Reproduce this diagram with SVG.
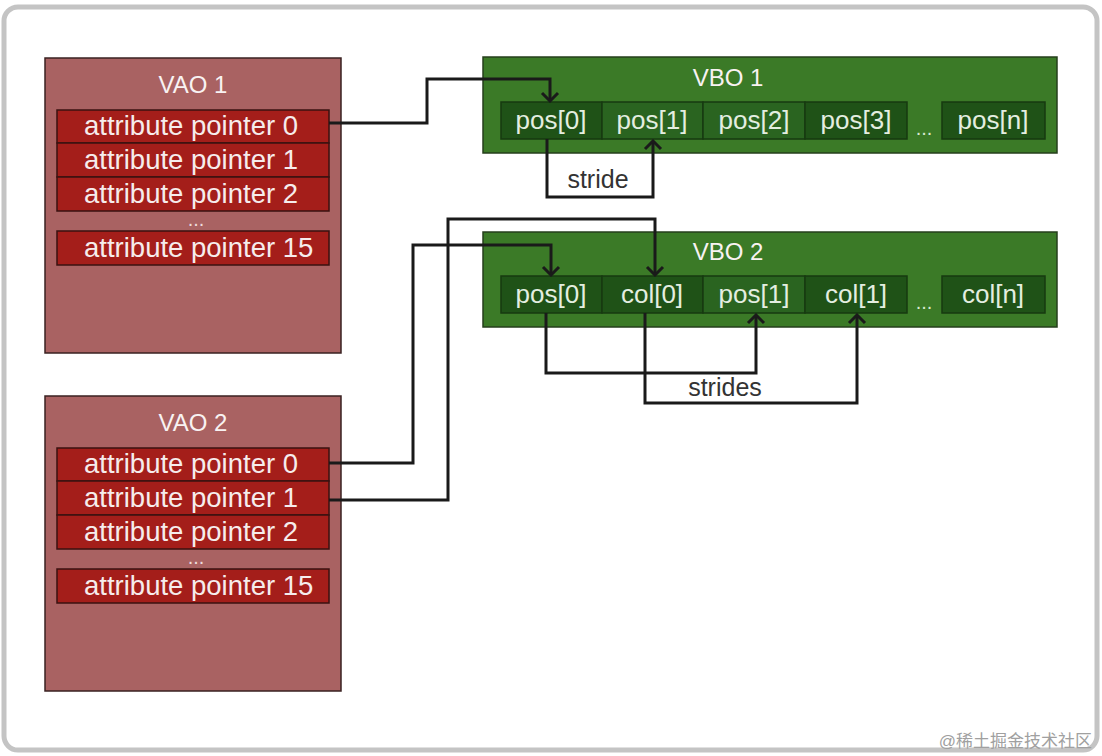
<svg xmlns="http://www.w3.org/2000/svg" width="1102" height="756" viewBox="0 0 1102 756">
<style>
.vao{fill:#a96262;stroke:#3a2222;stroke-width:1.5}
.row{fill:#a41e1a;stroke:#3a1210;stroke-width:1.5}
.rt{font-family:"Liberation Sans",Arial,sans-serif;font-size:27.5px;fill:#f6ecec}
.tt{font-family:"Liberation Sans",Arial,sans-serif;font-size:24px;fill:#f8f2f2;text-anchor:middle}
.vbo{fill:#3b7a27;stroke:#263f1c;stroke-width:1.5}
.ca{fill:#1f5217;stroke:#173a10;stroke-width:1.5}
.cb{fill:#2a6420;stroke:#173a10;stroke-width:1.5}
.ct{font-family:"Liberation Sans",Arial,sans-serif;font-size:26px;fill:#e4eee0;text-anchor:middle}
.dots{font-family:"Liberation Sans",Arial,sans-serif;font-size:20px;fill:#ecdcdc;text-anchor:middle}
.gd{font-family:"Liberation Sans",Arial,sans-serif;font-size:20px;fill:#d8e8d0;text-anchor:middle}
.lbl{font-family:"Liberation Sans",Arial,sans-serif;font-size:25px;fill:#333;text-anchor:middle}
.cn{fill:none;stroke:#1a1a1a;stroke-width:3;stroke-linejoin:miter}
</style>
<defs>
<marker id="arr" viewBox="-12 -10 14 20" markerWidth="14" markerHeight="20" refX="0" refY="0" markerUnits="userSpaceOnUse" orient="auto">
<path d="M-8,-8 L0,0 L-8,8" fill="none" stroke="#1a1a1a" stroke-width="3"/>
</marker>
</defs>
<rect x="0" y="0" width="1102" height="756" fill="#ffffff"/>
<rect id="frame" x="4" y="7" width="1093" height="743" rx="14" fill="#ffffff" stroke="#c4c4c4" stroke-width="5"/>

<g id="vao1">
<rect class="vao" x="45" y="58" width="296" height="295"/>
<text class="tt" x="193" y="93">VAO 1</text>
<rect class="row" x="57" y="110" width="272" height="33"/>
<text class="rt" x="84" y="135">attribute pointer 0</text>
<rect class="row" x="57" y="143" width="272" height="34"/>
<text class="rt" x="84" y="169">attribute pointer 1</text>
<rect class="row" x="57" y="177" width="272" height="34"/>
<text class="rt" x="84" y="203">attribute pointer 2</text>
<text class="dots" x="196" y="226">...</text>
<rect class="row" x="57" y="231" width="272" height="34"/>
<text class="rt" x="84" y="257">attribute pointer 15</text>
</g>

<g id="vao2">
<rect class="vao" x="45" y="396" width="296" height="295"/>
<text class="tt" x="193" y="431">VAO 2</text>
<rect class="row" x="57" y="448" width="272" height="33"/>
<text class="rt" x="84" y="473">attribute pointer 0</text>
<rect class="row" x="57" y="481" width="272" height="34"/>
<text class="rt" x="84" y="507">attribute pointer 1</text>
<rect class="row" x="57" y="515" width="272" height="34"/>
<text class="rt" x="84" y="541">attribute pointer 2</text>
<text class="dots" x="196" y="564">...</text>
<rect class="row" x="57" y="569" width="272" height="34"/>
<text class="rt" x="84" y="595">attribute pointer 15</text>
</g>

<g id="vbo1">
<rect class="vbo" x="483" y="57" width="574" height="96"/>
<text class="tt" x="728" y="86">VBO 1</text>
<rect class="ca" x="501" y="102" width="101" height="37"/>
<text class="ct" x="551" y="129">pos[0]</text>
<rect class="cb" x="602" y="102" width="101" height="37"/>
<text class="ct" x="652" y="129">pos[1]</text>
<rect class="cb" x="703" y="102" width="102" height="37"/>
<text class="ct" x="754" y="129">pos[2]</text>
<rect class="ca" x="805" y="102" width="102" height="37"/>
<text class="ct" x="856" y="129">pos[3]</text>
<text class="gd" x="924" y="135">...</text>
<rect class="ca" x="942" y="102" width="103" height="37"/>
<text class="ct" x="993" y="129">pos[n]</text>
</g>

<g id="vbo2">
<rect class="vbo" x="483" y="232" width="574" height="95"/>
<text class="tt" x="728" y="260">VBO 2</text>
<rect class="ca" x="501" y="276" width="101" height="37"/>
<text class="ct" x="551" y="303">pos[0]</text>
<rect class="ca" x="602" y="276" width="101" height="37"/>
<text class="ct" x="652" y="303">col[0]</text>
<rect class="cb" x="703" y="276" width="102" height="37"/>
<text class="ct" x="754" y="303">pos[1]</text>
<rect class="ca" x="805" y="276" width="102" height="37"/>
<text class="ct" x="856" y="303">col[1]</text>
<text class="gd" x="924" y="309">...</text>
<rect class="ca" x="942" y="276" width="103" height="37"/>
<text class="ct" x="993" y="303">col[n]</text>
</g>

<g id="connectors">
<path class="cn" d="M329,123 H427 V79 H550 V101" marker-end="url(#arr)"/>
<path class="cn" d="M547,139 V197 H653 V141" marker-end="url(#arr)"/>
<path class="cn" d="M329,463 H413 V245 H551 V275" marker-end="url(#arr)"/>
<path class="cn" d="M329,500 H448 V219 H655 V275" marker-end="url(#arr)"/>
<path class="cn" d="M546,313 V373 H756 V315" marker-end="url(#arr)"/>
<path class="cn" d="M645,313 V403 H857 V315" marker-end="url(#arr)"/>
</g>
<text class="lbl" x="598" y="188">stride</text>
<text class="lbl" x="725" y="396">strides</text>
<text x="1092" y="747" text-anchor="end" font-family="'Liberation Sans','Noto Sans CJK SC',sans-serif" font-size="17" fill="#a0a0a0">@稀土掘金技术社区</text>
</svg>
